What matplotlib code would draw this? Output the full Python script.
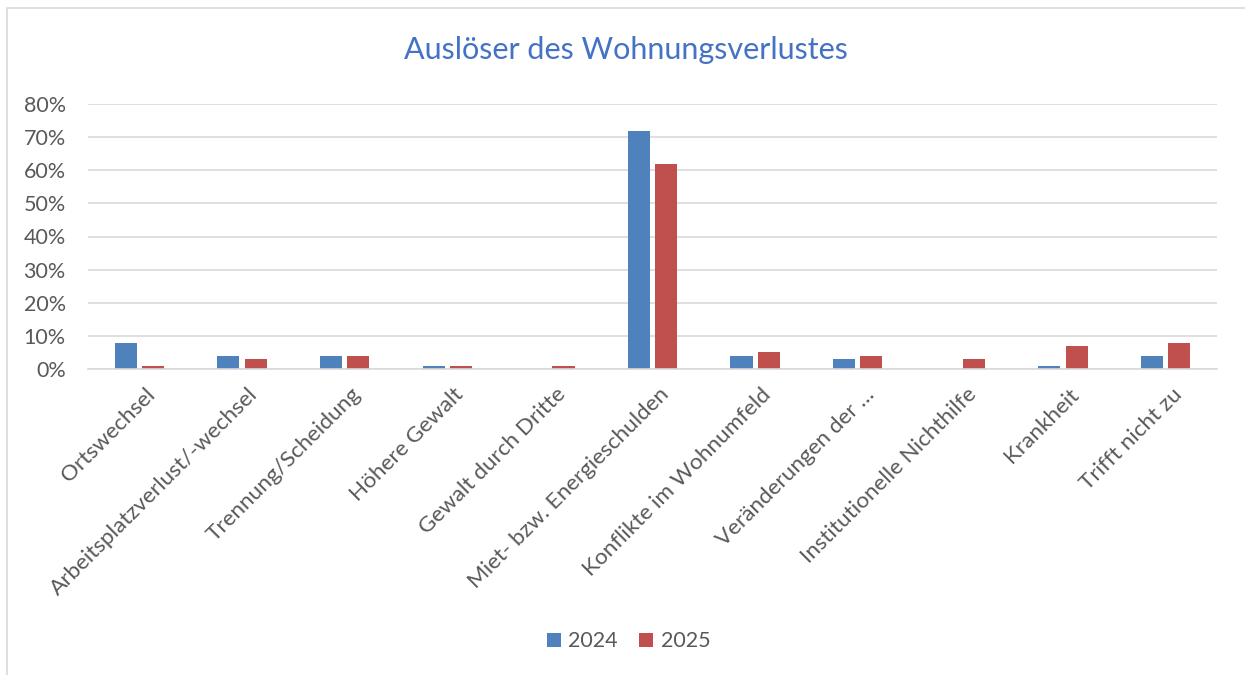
import matplotlib
matplotlib.use("Agg")
import matplotlib.pyplot as plt
import matplotlib.transforms as mtransforms
import numpy as np
from matplotlib.patches import Rectangle
from matplotlib.ticker import PercentFormatter

plt.rcParams['font.family'] = ['Lato', 'DejaVu Sans']

categories = ["Ortswechsel", "Arbeitsplatzverlust/-wechsel", "Trennung/Scheidung",
              "Höhere Gewalt", "Gewalt durch Dritte", "Miet- bzw. Energieschulden",
              "Konflikte im Wohnumfeld", "Veränderungen der …", "Institutionelle Nichthilfe",
              "Krankheit", "Trifft nicht zu"]
values_2024 = [8, 4, 4, 1, 0, 72, 4, 3, 0, 1, 4]
values_2025 = [1, 3, 4, 1, 1, 62, 5, 4, 3, 7, 8]

text_col = "#595959"
fig = plt.figure(figsize=(12.45, 6.75), dpi=100)
fig.patches.append(Rectangle((7 / 1245, -0.01), 1.0, 1 - 8 / 675 + 0.01,
                             transform=fig.transFigure, fill=False,
                             edgecolor="#d9d9d9", linewidth=1.2))

ax = fig.add_axes([88 / 1245, 1 - 369 / 675, (1217 - 88) / 1245, (369 - 104) / 675])
x = np.arange(len(categories))
w = 0.215
ax.bar(x - 0.133, values_2024, w, color="#4f81bd", label="2024")
ax.bar(x + 0.133, values_2025, w, color="#c0504d", label="2025")

ax.set_xlim(-0.5, len(categories) - 0.5)
ax.set_ylim(0, 80)
ax.set_yticks(range(0, 81, 10))
ax.yaxis.set_major_formatter(PercentFormatter(decimals=0))
ax.grid(axis="y", color="#d9d9d9", linewidth=1.2)
ax.set_axisbelow(True)
for s in ["top", "right", "left"]:
    ax.spines[s].set_visible(False)
ax.spines["bottom"].set_color("#d9d9d9")
ax.spines["bottom"].set_linewidth(1.2)
ax.tick_params(axis="both", length=0, colors=text_col, labelsize=15.5)
ax.tick_params(axis="y", pad=16)
ax.tick_params(axis="x", pad=11, labelsize=16.2)
ax.set_xticks(x)
ax.set_xticklabels(categories, rotation=45, ha="right", rotation_mode="anchor")
shift = mtransforms.ScaledTranslation(6 / 100, 0, fig.dpi_scale_trans)
for lbl in ax.get_xticklabels():
    lbl.set_transform(lbl.get_transform() + shift)

fig.text(0.503, 0.926, "Auslöser des Wohnungsverlustes", ha="center", va="center",
         fontsize=22, color="#4472c4")
fig.legend(loc="center", bbox_to_anchor=(0.505, 0.05), ncol=2, frameon=False,
           fontsize=15.5, labelcolor=text_col, handlelength=0.65, handleheight=0.65,
           columnspacing=1.0, handletextpad=0.35)

fig.savefig("out.png", dpi=100)
